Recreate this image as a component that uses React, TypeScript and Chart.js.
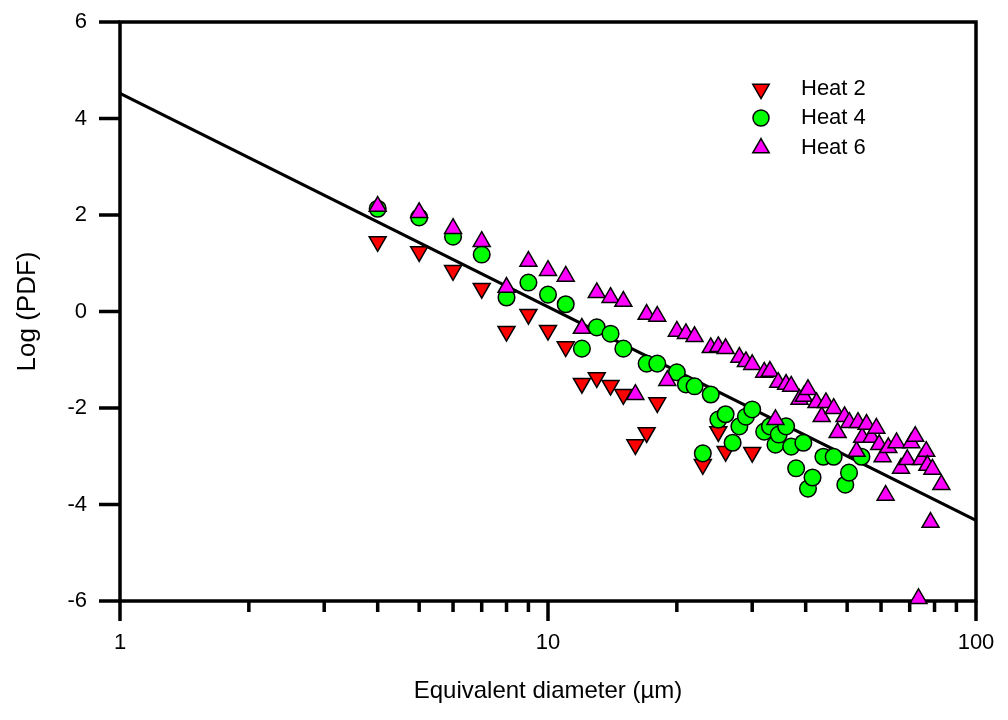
import React, { useEffect, useRef } from 'react';
import { Chart, registerables } from 'chart.js';

Chart.register(...registerables);

const FONT = '"Liberation Sans", Arial, sans-serif';

const heat2X = [4, 5, 6, 7, 8, 9, 10, 11, 12, 13, 14, 15, 16, 17, 18, 23, 25, 26, 30];
const heat2Y = [1.45, 1.24, 0.85, 0.48, -0.41, -0.06, -0.39, -0.73, -1.49, -1.37, -1.53, -1.72, -2.76, -2.51, -1.89, -3.17, -2.49, -2.9, -2.92];

const heat4X = [4, 5, 6, 7, 8, 9, 10, 11, 12, 13, 14, 15, 17, 18, 20, 21, 22, 23, 24, 25, 26, 27, 28, 29, 30, 32, 33, 34, 34.6, 36, 37, 38, 39.5, 40.5, 41.5, 44, 46.5, 49.5, 50.5, 54];
const heat4Y = [2.13, 1.95, 1.55, 1.18, 0.29, 0.6, 0.35, 0.15, -0.77, -0.33, -0.46, -0.77, -1.08, -1.08, -1.26, -1.51, -1.55, -2.94, -1.72, -2.24, -2.13, -2.72, -2.38, -2.18, -2.03, -2.49, -2.38, -2.76, -2.55, -2.38, -2.8, -3.25, -2.72, -3.67, -3.44, -3.01, -3.01, -3.59, -3.34, -3.01];

const heat6X = [4, 5, 6, 7, 8, 9, 10, 11, 12, 13, 14, 15, 16, 17, 18, 19, 20, 21, 22, 24, 25, 26, 28, 29, 30, 32, 33, 34, 34.5, 36, 37, 38.7, 39.6, 40.5, 42.4, 43.6, 44.6, 46.5, 47.5, 49.3, 50.6, 52.6, 53, 54.2, 55.5, 57, 58.5, 59.4, 60.5, 61.5, 62.4, 65.2, 66.8, 69.1, 70.6, 72.1, 73.4, 74.5, 76.5, 77, 78.3, 79.1, 83];
const heat6Y = [2.18, 2.05, 1.72, 1.45, 0.5, 1.04, 0.85, 0.73, -0.35, 0.39, 0.29, 0.21, -1.72, -0.06, -0.1, -1.43, -0.41, -0.46, -0.52, -0.75, -0.73, -0.77, -0.95, -1.04, -1.1, -1.26, -1.24, -2.24, -1.47, -1.51, -1.55, -1.82, -1.76, -1.62, -1.89, -2.18, -1.89, -2.01, -2.51, -2.18, -2.3, -2.9, -2.3, -2.61, -2.34, -2.61, -2.42, -2.76, -3.01, -3.81, -2.82, -2.72, -3.25, -3.07, -2.72, -2.59, -5.95, -3.07, -2.9, -3.19, -4.37, -3.27, -3.59];

const fitX = [1, 100];
const fitY = [4.52, -4.33];

const xMajorTicks = [1, 10, 100];
const xMinorTicks = [2, 3, 4, 5, 6, 7, 8, 9, 20, 30, 40, 50, 60, 70, 80, 90];
const yTicks = [-6, -4, -2, 0, 2, 4, 6];

const seriesNames = ['Heat 2', 'Heat 4', 'Heat 6'];

const zip = (xs: number[], ys: number[]) => xs.map((x, i) => ({ x, y: ys[i] }));

const framePlugin = {
  id: 'frame',
  beforeDatasetsDraw(chart: any) {
    const { ctx, chartArea } = chart;
    const { left, right, top, bottom } = chartArea;
    const xs = chart.scales.x;
    const ys = chart.scales.y;
    ctx.save();
    ctx.strokeStyle = '#000';
    ctx.lineWidth = 3.5;
    ctx.lineCap = 'butt';
    ctx.lineJoin = 'miter';
    ctx.beginPath();
    ctx.moveTo(left, bottom);
    ctx.lineTo(left, top);
    ctx.lineTo(right, top);
    ctx.lineTo(right, bottom);
    ctx.closePath();
    ctx.stroke();
    ctx.beginPath();
    yTicks.forEach((v) => {
      const py = ys.getPixelForValue(v);
      ctx.moveTo(left - 21, py);
      ctx.lineTo(left, py);
    });
    xMajorTicks.forEach((v) => {
      const px = xs.getPixelForValue(v);
      ctx.moveTo(px, bottom);
      ctx.lineTo(px, bottom + 20);
    });
    xMinorTicks.forEach((v) => {
      const px = xs.getPixelForValue(v);
      ctx.moveTo(px, bottom);
      ctx.lineTo(px, bottom + 11);
    });
    ctx.stroke();
    ctx.restore();
  },
};

const legendPlugin = {
  id: 'customLegend',
  afterDatasetsDraw(chart: any) {
    const { ctx } = chart;
    const mx = 761;
    const tx = 801;
    const rows = [89, 118, 148];
    ctx.save();
    ctx.lineWidth = 1.5;
    ctx.strokeStyle = '#000';
    const r = 9.5;
    const drawTri = (cx: number, cy: number, down: boolean, fill: string) => {
      const s = down ? -1 : 1;
      ctx.beginPath();
      ctx.moveTo(cx, cy - s * r);
      ctx.lineTo(cx + r * Math.sin((2 * Math.PI) / 3), cy + s * r * 0.5);
      ctx.lineTo(cx - r * Math.sin((2 * Math.PI) / 3), cy + s * r * 0.5);
      ctx.closePath();
      ctx.fillStyle = fill;
      ctx.fill();
      ctx.stroke();
    };
    drawTri(mx, rows[0], true, '#ff0000');
    ctx.beginPath();
    ctx.arc(mx, rows[1], 8, 0, Math.PI * 2);
    ctx.fillStyle = '#00ff00';
    ctx.fill();
    ctx.stroke();
    drawTri(mx, rows[2], false, '#ff00ff');
    ctx.fillStyle = '#000';
    ctx.font = `22px ${FONT}`;
    ctx.textAlign = 'left';
    ctx.textBaseline = 'middle';
    seriesNames.forEach((n, i) => ctx.fillText(n, tx, rows[i]));
    ctx.restore();
  },
};

export default function App() {
  const ref = useRef<HTMLCanvasElement | null>(null);

  useEffect(() => {
    document.body.style.margin = '0';
    const canvas = ref.current;
    if (!canvas) return;
    const chart = new Chart(canvas, {
      type: 'scatter',
      data: {
        datasets: [
          {
            label: 'fit',
            type: 'line',
            data: zip(fitX, fitY),
            borderColor: '#000',
            borderWidth: 3.2,
            pointRadius: 0,
            fill: false,
            tension: 0,
            order: 4,
            clip: false,
          } as any,
          {
            label: seriesNames[0],
            data: zip(heat2X, heat2Y),
            pointStyle: 'triangle',
            rotation: 180,
            pointRadius: 9.8,
            backgroundColor: '#ff0000',
            borderColor: '#000',
            borderWidth: 1.5,
            order: 3,
            clip: false,
          } as any,
          {
            label: seriesNames[1],
            data: zip(heat4X, heat4Y),
            pointStyle: 'circle',
            pointRadius: 8.3,
            backgroundColor: '#00ff00',
            borderColor: '#000',
            borderWidth: 1.5,
            order: 2,
            clip: false,
          } as any,
          {
            label: seriesNames[2],
            data: zip(heat6X, heat6Y),
            pointStyle: 'triangle',
            pointRadius: 9.8,
            backgroundColor: '#ff00ff',
            borderColor: '#000',
            borderWidth: 1.5,
            order: 1,
            clip: false,
          } as any,
        ],
      },
      options: {
        responsive: false,
        animation: false,
        events: [],
        layout: { padding: { top: 22, right: 32, bottom: 0, left: 0 } },
        plugins: {
          legend: { display: false },
          tooltip: { enabled: false },
        },
        scales: {
          x: {
            type: 'logarithmic',
            position: 'bottom',
            min: 1,
            max: 100,
            afterBuildTicks: (scale: any) => {
              scale.ticks = xMajorTicks.map((v) => ({ value: v, major: true }));
            },
            afterFit: (scale: any) => {
              scale.height = 119;
              scale.paddingLeft = 0;
              scale.paddingRight = 0;
            },
            grid: { display: false, drawTicks: false },
            border: { display: false },
            ticks: {
              autoSkip: false,
              maxRotation: 0,
              padding: 29,
              color: '#000',
              font: { family: FONT, size: 22 },
              callback: (v: any) => String(v),
            },
            title: {
              display: true,
              text: 'Equivalent diameter (\u00b5m)',
              color: '#000',
              font: { family: FONT, size: 24 },
              padding: { top: 0, bottom: 14 },
            },
          },
          y: {
            type: 'linear',
            min: -6,
            max: 6,
            afterBuildTicks: (scale: any) => {
              scale.ticks = yTicks.map((v) => ({ value: v }));
            },
            afterFit: (scale: any) => {
              scale.width = 120;
              scale.paddingTop = 0;
              scale.paddingBottom = 0;
            },
            grid: { display: false, drawTicks: false },
            border: { display: false },
            ticks: {
              padding: 33,
              color: '#000',
              font: { family: FONT, size: 22 },
              callback: (v: any) => String(v),
            },
            title: {
              display: true,
              text: 'Log (PDF)',
              color: '#000',
              font: { family: FONT, size: 26 },
              padding: { top: 12, bottom: 0 },
            },
          },
        },
      } as any,
      plugins: [framePlugin, legendPlugin],
    });
    return () => chart.destroy();
  }, []);

  return <canvas ref={ref} width={1008} height={720} style={{ display: 'block' }} />;
}
